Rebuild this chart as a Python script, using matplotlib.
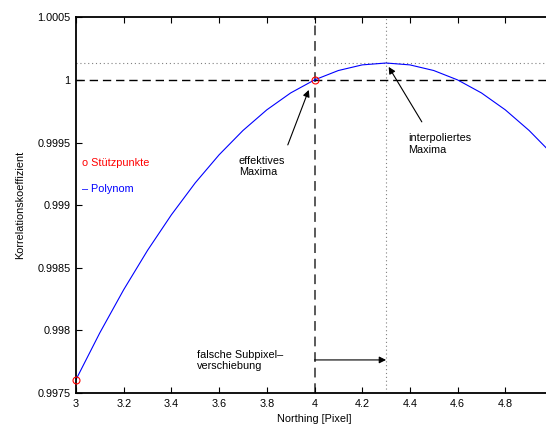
import matplotlib
matplotlib.use("Agg")
import matplotlib.pyplot as plt

plt.rcParams['font.family'] = ['Liberation Sans', 'DejaVu Sans']

# support points (Stützpunkte)
support_x = [3.0, 4.0, 5.0]
support_y = [0.997607, 1.000000, 0.999402]

# polynomial curve (sampled)
poly_x = [3.0, 3.1, 3.2, 3.3, 3.4, 3.5, 3.6, 3.7, 3.8, 3.9, 4.0,
          4.1, 4.2, 4.3, 4.4, 4.5, 4.6, 4.7, 4.8, 4.9, 5.0]
poly_y = [0.997607, 0.997981, 0.998325, 0.998639, 0.998923, 0.999178,
          0.999402, 0.999596, 0.999761, 0.999896, 1.000000, 1.000075,
          1.000120, 1.000135, 1.000120, 1.000075, 1.000000, 0.999896,
          0.999761, 0.999596, 0.999402]

eff_max_x = 4.0
eff_max_y = 1.0
interp_max_x = 4.3
interp_max_y = 1.000135

x_ticks = [3.0, 3.2, 3.4, 3.6, 3.8, 4.0, 4.2, 4.4, 4.6, 4.8]
x_tick_labels = ["3", "3.2", "3.4", "3.6", "3.8", "4", "4.2", "4.4", "4.6", "4.8"]
y_ticks = [0.9975, 0.998, 0.9985, 0.999, 0.9995, 1.0, 1.0005]
y_tick_labels = ["0.9975", "0.998", "0.9985", "0.999", "0.9995", "1", "1.0005"]

fs = 7.8
fig = plt.figure(figsize=(5.46, 4.26), dpi=100)
ax = fig.add_axes([76/546, 33/426, 477/546, 375.7/426])

ax.axvline(eff_max_x, color='0.35', lw=1.4, linestyle=(0, (5, 3)), zorder=1)
ax.axhline(eff_max_y, color='black', lw=1.0, linestyle=(0, (6, 3.5)), zorder=1)
ax.axvline(interp_max_x, color='0.5', lw=0.8, linestyle=(0, (1, 2.5)), zorder=1)
ax.axhline(interp_max_y, color='0.5', lw=0.8, linestyle=(0, (1, 2.5)), zorder=1)

ax.plot(poly_x, poly_y, color='blue', lw=0.8, zorder=2)
ax.plot(support_x, support_y, linestyle='none', marker='o', markersize=5,
        markerfacecolor='none', markeredgecolor='red', markeredgewidth=0.8,
        clip_on=False, zorder=3)

ax.set_xlim(3, 5)
ax.set_ylim(0.9975, 1.0005)
ax.set_xticks(x_ticks)
ax.set_xticklabels(x_tick_labels)
ax.set_yticks(y_ticks)
ax.set_yticklabels(y_tick_labels)
ax.tick_params(direction='in', length=4, width=0.8, labelsize=fs,
               top=True, right=True, pad=4)
for s in ax.spines.values():
    s.set_linewidth(1.3)

ax.set_xlabel("Northing [Pixel]", fontsize=fs, labelpad=4)
ax.set_ylabel("Korrelationskoeffizient", fontsize=fs, labelpad=9)

# legend-like text
ax.text(3.025, 0.999337, "o Stützpunkte", color='red', fontsize=fs, va='center', ha='left')
ax.text(3.025, 0.999129, "– Polynom", color='blue', fontsize=fs, va='center', ha='left')

# annotations
arrow_kw = dict(arrowstyle='-|>', color='black', lw=0.8,
                mutation_scale=10, shrinkA=0, shrinkB=0)
ax.text(3.683, 0.999309, "effektives\nMaxima", fontsize=fs, va='center', ha='left',
        linespacing=1.15)
ax.annotate("", xy=(3.976, 0.99992), xytext=(3.888, 0.999481), arrowprops=arrow_kw)
ax.text(4.391, 0.999489, "interpoliertes\nMaxima", fontsize=fs, va='center', ha='left',
        linespacing=1.15)
ax.annotate("", xy=(4.311, 1.000104), xytext=(4.450, 0.999665), arrowprops=arrow_kw)
ax.text(3.507, 0.99776, "falsche Subpixel–\nverschiebung", fontsize=fs, va='center',
        ha='left', linespacing=1.15)
ax.annotate("", xy=(interp_max_x, 0.997764), xytext=(eff_max_x, 0.997764),
            arrowprops=arrow_kw)

fig.savefig("out.png", dpi=100)
